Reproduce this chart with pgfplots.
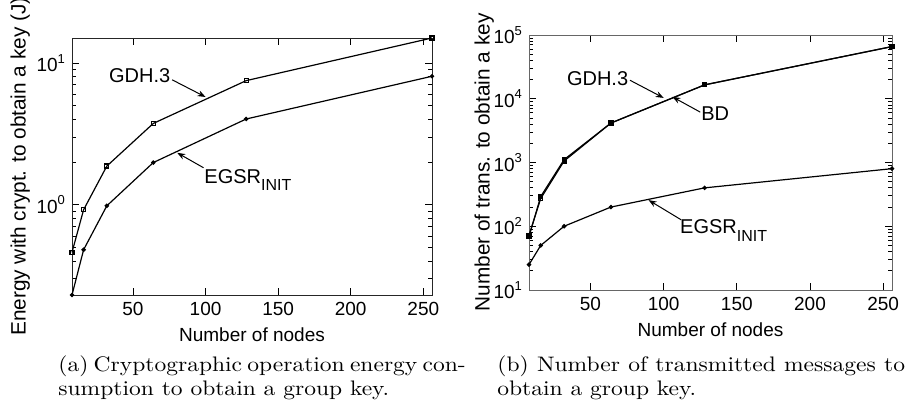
\documentclass[border=0pt]{standalone}
\usepackage{fontspec}
\usepackage{graphicx}
\usepackage{pgfplots}
\pgfplotsset{compat=1.18}
\usetikzlibrary{arrows.meta}
\newfontfamily\arial{Liberation Sans}

% MATLAB-like exponent labels and subscripts
\newcommand{\ex}[1]{10\raisebox{0.85ex}{\fontsize{6.5}{7}\selectfont #1}}
\newcommand{\egsr}{EGSR\raisebox{-0.7ex}{\fontsize{8}{8}\selectfont INIT}}
% captions are a little wider than tall in the reference
\newcommand{\wide}[1]{\scalebox{1.12}[1]{#1}}

\pgfplotsset{every axis/.append style={
  scale only axis, xmin=8, xmax=256,
  xtick={50,100,150,200,250},
  tick align=inside, major tick length=3.5pt, minor tick length=2pt,
  every tick/.style={black, line width=0.4pt},
  /pgf/number format/assume math mode=true,
  tick label style={font=\arial\fontsize{9.5}{11}\selectfont},
  xlabel style={font=\arial\fontsize{9.5}{11}\selectfont, yshift=1pt},
  ylabel style={font=\arial\fontsize{10.4}{12}\selectfont},
  xlabel={Number of nodes},
  clip=false,
}}
\tikzset{ann/.style={-{Stealth[length=4pt,width=3pt]}, line width=0.5pt},
  lab/.style={font=\arial\fontsize{10}{12}\selectfont, inner sep=0pt},
  subcap/.style={anchor=base west, inner sep=0pt, font=\fontsize{10.5}{12}\selectfont}}

\begin{document}
\begin{tikzpicture}
\useasboundingbox (0,0) rectangle (453.5pt,202.5pt);

% (a) energy
\begin{axis}[ymode=log, at={(36pt,55pt)}, anchor=south west,
  width=180pt, height=128.5pt, ymin=0.23, ymax=15,
  ytick={1,10}, yticklabels={\ex{0},\ex{1}},
  minor ytick={0.3,0.4,0.5,0.6,0.7,0.8,0.9,2,3,4,5,6,7,8,9},
  axis line style={black!85},
  ylabel={Energy with crypt. to obtain a key (J)},
  ylabel style={yshift=-3.5pt}]
\addplot[black, line width=0.6pt, mark=square, mark size=1pt] coordinates {
  (8,0.46) (16,0.92) (32,1.87) (64,3.74) (128,7.5) (256,15)};
\addplot[black, line width=0.6pt, mark=*, mark size=0.8pt] coordinates {
  (8,0.23) (16,0.48) (32,0.98) (64,1.98) (128,4.02) (256,8.05)};
\draw[ann] (axis cs:77,7.6) -- (axis cs:100,5.75);
\node[lab, anchor=east] at (axis cs:76,8.1) {GDH.3};
\draw[ann] (axis cs:98.6,1.82) -- (axis cs:80.5,2.32);
\node[lab, anchor=north west] at (axis cs:99,1.78) {\egsr};
\end{axis}

% (b) transmitted messages
\begin{axis}[ymode=log, at={(264.5pt,57.5pt)}, anchor=south west,
  width=181.5pt, height=127.5pt, ymin=10, ymax=100000,
  ytick={10,100,1000,10000,100000},
  yticklabels={\ex{1},\ex{2},\ex{3},\ex{4},\ex{5}},
  minor ytick={20,30,40,50,60,70,80,90,200,300,400,500,600,700,800,900,
    2000,3000,4000,5000,6000,7000,8000,9000,
    20000,30000,40000,50000,60000,70000,80000,90000},
  axis line style={black!60},
  ylabel={Number of trans. to obtain a key},
  ylabel style={yshift=-7pt}]
\addplot[black, line width=0.6pt, mark=square, mark size=1pt] coordinates {
  (8,72) (16,272) (32,1056) (64,4160) (128,16512) (256,65792)};
\addplot[black, line width=0.6pt, mark=square*, mark size=1pt] coordinates {
  (8,69) (16,292) (32,1110) (64,4160) (128,16512) (256,65792)};
\addplot[black, line width=0.6pt, mark=*, mark size=0.8pt] coordinates {
  (8,25) (16,50) (32,100) (64,200) (128,400) (256,800)};
\draw[ann] (axis cs:77,19500) -- (axis cs:100,10300);
\node[lab, anchor=east] at (axis cs:76,20500) {GDH.3};
\draw[ann] (axis cs:125,6170) -- (axis cs:106,10700);
\node[lab, anchor=west] at (axis cs:125.5,5800) {BD};
\draw[ann] (axis cs:112,126) -- (axis cs:89.7,257);
\node[lab, anchor=north west] at (axis cs:111,128) {\egsr};
\end{axis}

% sub-captions
\node[subcap] at (29pt,16.5pt)
  {\wide{\makebox[176pt][s]{(a) Cryptographic operation energy con-}}};
\node[subcap] at (29pt,4.5pt) {\wide{sumption to obtain a group key.}};
\node[subcap] at (248.5pt,16.5pt)
  {\wide{\makebox[182pt][s]{(b) Number of transmitted messages to}}};
\node[subcap] at (248.5pt,4.5pt) {\wide{obtain a group key.}};
\end{tikzpicture}
\end{document}
